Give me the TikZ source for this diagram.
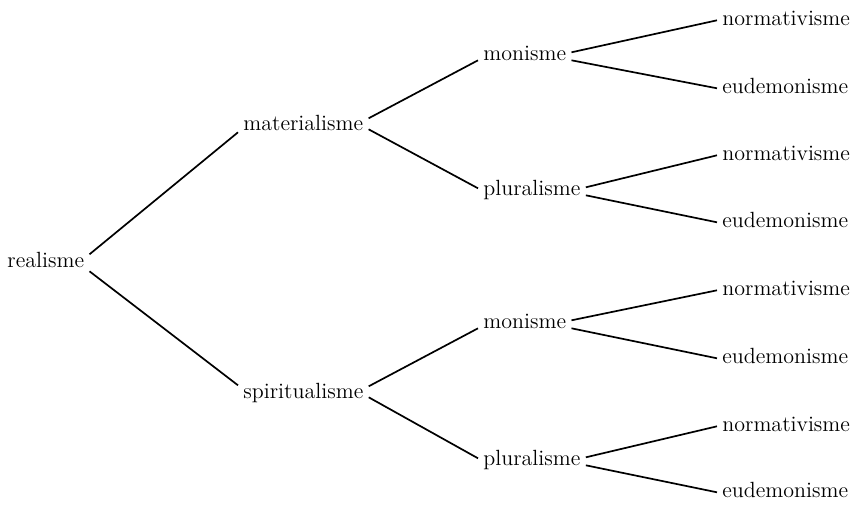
\documentclass[tikz,border=0pt]{standalone}
\usepackage{tikz}
\usetikzlibrary{positioning}
\tikzset{
x=0.5pt, y=-0.5pt, % one unit is one pixel of the scan, y runs downwards
every node/.style={anchor=base west, inner xsep=2.5pt, inner ysep=0pt, text height=4.7pt, text depth=0pt}, % box from baseline to x-height, so east/west sit mid-letter
every edge/.style={draw, line width=0.85pt}, % plain straight branches
font=\fontsize{11}{13}\selectfont, % size of the terms
}
\begin{document}
\begin{tikzpicture}
            \useasboundingbox (0,0) rectangle (863,505);
            \node (real) at (2,267) {realisme};
            \node (mat) at (238,130) {materialisme};
            \node (spir) at (238,398) {spiritualisme};
            \node (matmon) at (478,60) {monisme};
            \node (matplu) at (478,195) {pluralisme};
            \node (spirmon) at (478,328) {monisme};
            \node (spirplu) at (478,465) {pluralisme};
            \node (matmonnorm) at (717,25) {normativisme};
            \node (matmoneud) at (717,93) {eudemonisme};
            \node (matplunorm) at (717,160) {normativisme};
            \node (matplueud) at (717,227) {eudemonisme};
            \node (spirmonnorm) at (717,295) {normativisme};
            \node (spirmoneud) at (717,363) {eudemonisme};
            \node (spirplunorm) at (717,431) {normativisme};
            \node (spirplueud) at (717,497) {eudemonisme};
            \draw
                ([yshift=4pt]real.east) edge ([yshift=-3.5pt]mat.west)
                ([yshift=-4.5pt]real.east) edge ([yshift=4pt]spir.west)

                ([yshift=3.5pt]mat.east) edge ([yshift=-2.5pt]matmon.west)
                ([yshift=-2pt]mat.east) edge ([yshift=1pt]matplu.west)
                ([yshift=3.5pt]spir.east) edge ([yshift=-2.5pt]spirmon.west)
                ([yshift=-2pt]spir.east) edge ([yshift=1pt]spirplu.west)

                ([yshift=1.5pt]matmon.east) edge (matmonnorm.west)
                ([yshift=-2.5pt]matmon.east) edge (matmoneud.west)
                ([yshift=1.5pt]matplu.east) edge (matplunorm.west)
                ([yshift=-2.5pt]matplu.east) edge (matplueud.west)
                ([yshift=1.5pt]spirmon.east) edge (spirmonnorm.west)
                ([yshift=-2.5pt]spirmon.east) edge (spirmoneud.west)
                ([yshift=1.5pt]spirplu.east) edge (spirplunorm.west)
                ([yshift=-2.5pt]spirplu.east) edge (spirplueud.west)
                ;
            \end{tikzpicture}
\end{document}
